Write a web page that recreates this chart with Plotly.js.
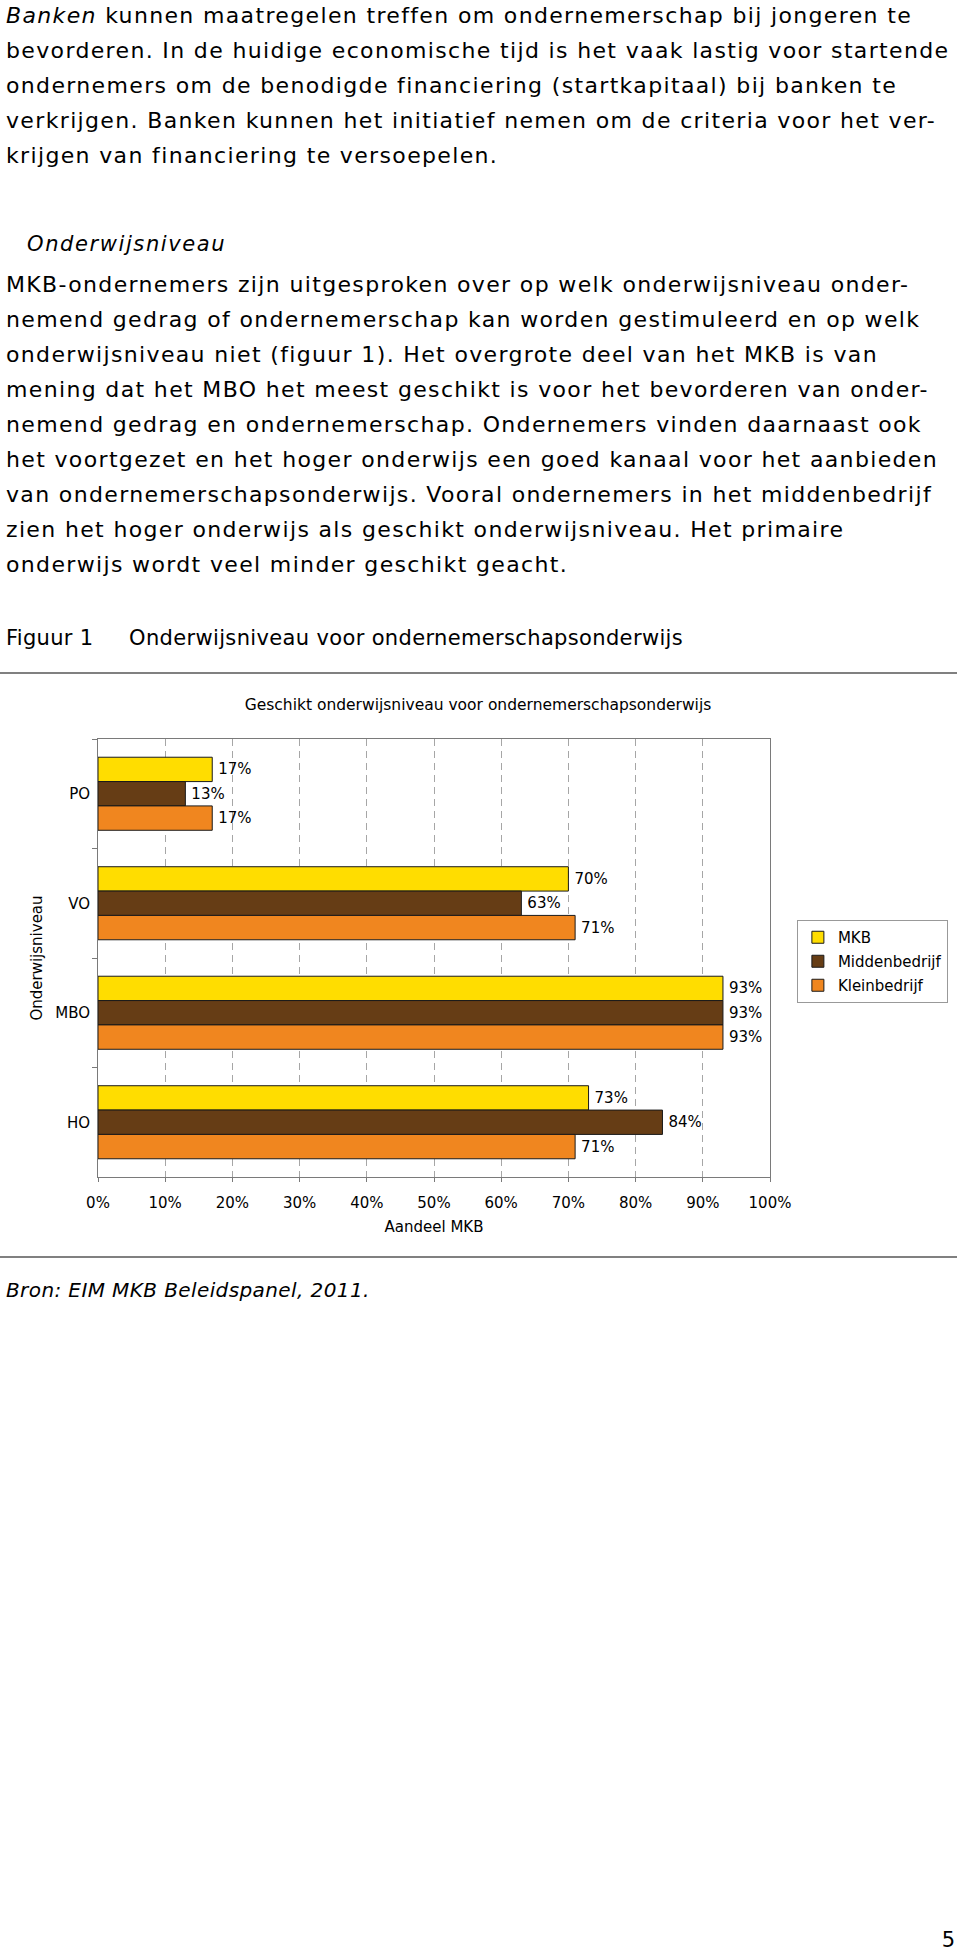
<!DOCTYPE html>
<html>
<head>
<meta charset="utf-8">
<script src="https://cdn.plot.ly/plotly-3.0.1.min.js"></script>
<style>
  html, body { margin:0; padding:0; background:#fff; }
  body { width:960px; height:1951px; position:relative; overflow:hidden; }
  #chart { position:absolute; left:0; top:0; width:960px; height:1951px; }
  #page { position:absolute; left:0; top:0; pointer-events:none; }
  #page text { font-family:"DejaVu Sans", Verdana, sans-serif; fill:#000; }
  .body { font-size:22px; letter-spacing:1.35px; }
</style>
</head>
<body>
<div id="chart"></div>
<svg id="page" width="960" height="1951" xmlns="http://www.w3.org/2000/svg">
  <g class="body">
    <text x="6" y="23"><tspan font-style="italic">Banken</tspan> kunnen maatregelen treffen om ondernemerschap bij jongeren te</text>
    <text x="6" y="58">bevorderen. In de huidige economische tijd is het vaak lastig voor startende</text>
    <text x="6" y="93">ondernemers om de benodigde financiering (startkapitaal) bij banken te</text>
    <text x="6" y="128">verkrijgen. Banken kunnen het initiatief nemen om de criteria voor het ver-</text>
    <text x="6" y="163">krijgen van financiering te versoepelen.</text>
  </g>
  <text x="27" y="251" font-style="italic" style="font-size:21px;letter-spacing:1.6px">Onderwijsniveau</text>
  <g class="body">
    <text x="6" y="292">MKB-ondernemers zijn uitgesproken over op welk onderwijsniveau onder-</text>
    <text x="6" y="327">nemend gedrag of ondernemerschap kan worden gestimuleerd en op welk</text>
    <text x="6" y="362">onderwijsniveau niet (figuur 1). Het overgrote deel van het MKB is van</text>
    <text x="6" y="397">mening dat het MBO het meest geschikt is voor het bevorderen van onder-</text>
    <text x="6" y="432">nemend gedrag en ondernemerschap. Ondernemers vinden daarnaast ook</text>
    <text x="6" y="467">het voortgezet en het hoger onderwijs een goed kanaal voor het aanbieden</text>
    <text x="6" y="502">van ondernemerschapsonderwijs. Vooral ondernemers in het middenbedrijf</text>
    <text x="6" y="537">zien het hoger onderwijs als geschikt onderwijsniveau. Het primaire</text>
    <text x="6" y="572">onderwijs wordt veel minder geschikt geacht.</text>
  </g>
  <text x="6" y="645" style="font-size:21px;letter-spacing:0.3px">Figuur 1</text>
  <text x="129" y="645" style="font-size:21px;letter-spacing:0.35px">Onderwijsniveau voor ondernemerschapsonderwijs</text>
  <rect x="0" y="672" width="957" height="2" fill="#808080"></rect>
  <rect x="0" y="1256" width="957" height="2" fill="#808080"></rect>
  <text x="6" y="1297" font-style="italic" style="font-size:20px;letter-spacing:0.4px">Bron: EIM MKB Beleidspanel, 2011.</text>
  <text x="955" y="1947" text-anchor="end" style="font-size:21px">5</text>
</svg>
<script>
// ---- chart data ----
const categories = ['PO', 'VO', 'MBO', 'HO'];
const seriesNames = ['MKB', 'Middenbedrijf', 'Kleinbedrijf'];
const mkbValues = [17, 70, 93, 73];
const middenbedrijfValues = [13, 63, 93, 84];
const kleinbedrijfValues = [17, 71, 93, 71];
const chartTitle = 'Geschikt onderwijsniveau voor ondernemerschapsonderwijs';
const xAxisTitle = 'Aandeel MKB';
const yAxisTitle = 'Onderwijsniveau';

const seriesValues = [mkbValues, middenbedrijfValues, kleinbedrijfValues];
const seriesColors = ['#FFDD00', '#663D15', '#F0861F'];
const FONT = '"DejaVu Sans", Verdana, sans-serif';

const traces = seriesNames.map((name, i) => ({
  type: 'bar',
  orientation: 'h',
  name: name,
  legendgroup: name,
  y: categories,
  x: seriesValues[i],
  text: seriesValues[i].map(v => '\u2009' + v + '%'),
  textposition: 'outside',
  constraintext: 'none',
  cliponaxis: false,
  textfont: { family: FONT, size: 15, color: '#000' },
  marker: { color: seriesColors[i], line: { color: '#1a1a1a', width: 1 } },
  hoverinfo: 'skip'
}));

const layout = {
  width: 960,
  height: 1951,
  margin: { l: 98, r: 187, t: 739, b: 774, pad: 0 },
  paper_bgcolor: 'rgba(0,0,0,0)',
  plot_bgcolor: '#ffffff',
  font: { family: FONT, size: 15, color: '#000' },
  barmode: 'group',
  bargap: 0.333,
  bargroupgap: 0,
  title: {
    text: chartTitle,
    xref: 'container', yref: 'container',
    x: 478 / 960, xanchor: 'center',
    y: 1 - 705 / 1951, yanchor: 'middle',
    font: { family: FONT, size: 15.5, color: '#000' }
  },
  xaxis: {
    range: [0, 100],
    tick0: 0, dtick: 10,
    ticksuffix: '%',
    showgrid: true, gridcolor: '#a6a6a6', gridwidth: 1, griddash: '7px,5px',
    zeroline: false,
    showline: true, linecolor: '#7a7a7a', linewidth: 1, mirror: true,
    ticks: 'outside', ticklen: 4, tickcolor: '#7a7a7a',
    ticklabelstandoff: 8,
    tickfont: { family: FONT, size: 15, color: '#000' },
    title: { text: xAxisTitle, standoff: 10, font: { family: FONT, size: 15, color: '#000' } },
    fixedrange: true
  },
  yaxis: {
    type: 'category',
    categoryorder: 'array', categoryarray: categories,
    autorange: 'reversed',
    showgrid: false, zeroline: false,
    showline: true, linecolor: '#7a7a7a', linewidth: 1, mirror: true,
    ticks: 'outside', tickson: 'boundaries', ticklen: 5, tickcolor: '#7a7a7a',
    ticklabelstandoff: 4,
    tickfont: { family: FONT, size: 15, color: '#000' },
    title: { text: yAxisTitle, standoff: 8, font: { family: FONT, size: 15, color: '#000' } },
    fixedrange: true
  },
  showlegend: true,
  legend: {
    x: (800 - 98) / 675, xanchor: 'left',
    y: (1177 - 920) / 438, yanchor: 'top',
    bgcolor: '#ffffff', bordercolor: '#999999', borderwidth: 1,
    font: { family: FONT, size: 15, color: '#000' },
    tracegroupgap: 1.5,
    itemwidth: 30
  }
};

Plotly.newPlot('chart', traces, layout, { displayModeBar: false, staticPlot: true });
</script>
</body>
</html>
